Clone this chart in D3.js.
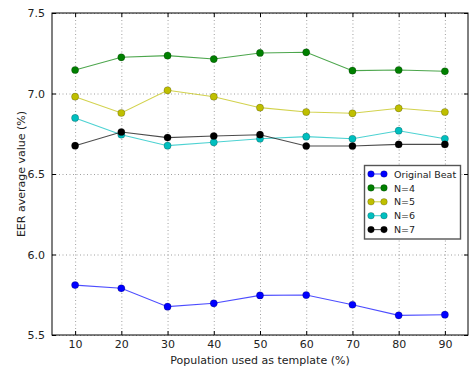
<!DOCTYPE html>
<html>
<head>
<meta charset="utf-8">
<script src="https://cdn.jsdelivr.net/npm/d3@7/dist/d3.min.js"></script>
<style>
  html, body { margin: 0; padding: 0; background: #fff; }
  svg { display: block; font-family: "DejaVu Sans", sans-serif; }
</style>
</head>
<body>
<svg id="chart" width="469" height="376"></svg>
<script>
// Population share used as template (%)
const populations = [10, 20, 30, 40, 50, 60, 70, 80, 90];

// EER average values (%) per configuration
const originalBeat = [5.81, 5.79, 5.676, 5.697, 5.746, 5.748, 5.688, 5.622, 5.626];
const n4 = [7.146, 7.225, 7.235, 7.214, 7.252, 7.256, 7.142, 7.146, 7.138];
const n5 = [6.980, 6.879, 7.020, 6.980, 6.912, 6.885, 6.877, 6.908, 6.885];
const n6 = [6.848, 6.744, 6.676, 6.697, 6.719, 6.732, 6.719, 6.769, 6.719];
const n7 = [6.676, 6.761, 6.726, 6.736, 6.744, 6.674, 6.674, 6.684, 6.684];

const seriesNames = ["Original Beat", "N=4", "N=5", "N=6", "N=7"];
const seriesColors = ["#0000ff", "#008000", "#bfbf00", "#00bfbf", "#000000"];
const yTicks = [5.5, 6.0, 6.5, 7.0, 7.5];
const xTicks = [10, 20, 30, 40, 50, 60, 70, 80, 90];

const series = [originalBeat, n4, n5, n6, n7].map((vals, i) => ({
  name: seriesNames[i], color: seriesColors[i], values: vals
}));

const svg = d3.select("#chart");
const m = { left: 52, top: 13, right: 468, bottom: 335 };

const x = d3.scaleLinear().domain([5, 95]).range([m.left, m.right]);
const y = d3.scaleLinear().domain([5.5, 7.5]).range([m.bottom, m.top]);

// dotted grid
const grid = svg.append("g");
grid.selectAll("line.vg").data(xTicks).join("line")
  .attr("x1", d => x(d) + 0.5).attr("x2", d => x(d) + 0.5)
  .attr("y1", m.top).attr("y2", m.bottom)
  .attr("stroke", "#888").attr("stroke-width", 0.8).attr("stroke-dasharray", "1,2.5");
grid.selectAll("line.hg").data(yTicks).join("line")
  .attr("x1", m.left).attr("x2", m.right)
  .attr("y1", d => y(d) + 0.5).attr("y2", d => y(d) + 0.5)
  .attr("stroke", "#888").attr("stroke-width", 0.8).attr("stroke-dasharray", "1,2.5");

// axes with inward ticks on all sides
const axisBottom = d3.axisBottom(x).tickValues(xTicks).tickSize(-4).tickPadding(5).tickFormat(d3.format("d"));
const axisTop = d3.axisTop(x).tickValues(xTicks).tickSize(-4).tickFormat("");
const axisLeft = d3.axisLeft(y).tickValues(yTicks).tickSize(-4).tickPadding(7).tickFormat(d3.format(".1f"));
const axisRight = d3.axisRight(y).tickValues(yTicks).tickSize(-4).tickFormat("");

function styleAxis(g) {
  g.select(".domain").remove();
  g.selectAll(".tick line").attr("stroke", "#000");
  g.selectAll(".tick text").attr("fill", "#222").style("font-size", "11px")
    .style("font-family", "'DejaVu Sans', sans-serif");
}
svg.append("g").attr("transform", `translate(0,${m.bottom})`).call(axisBottom).call(styleAxis);
svg.append("g").attr("transform", `translate(0,${m.top})`).call(axisTop).call(styleAxis);
svg.append("g").attr("transform", `translate(${m.left},0)`).call(axisLeft).call(styleAxis);
svg.append("g").attr("transform", `translate(${m.right},0)`).call(axisRight).call(styleAxis);

// frame
svg.append("rect")
  .attr("x", m.left).attr("y", m.top)
  .attr("width", m.right - m.left).attr("height", m.bottom - m.top)
  .attr("fill", "none").attr("stroke", "#000").attr("stroke-width", 1);

// lines and markers
const line = d3.line().x((d, i) => x(populations[i])).y(d => y(d));
const plot = svg.append("g");
series.forEach(s => {
  plot.append("path").datum(s.values)
    .attr("d", line).attr("fill", "none")
    .attr("stroke", s.color).attr("stroke-opacity", 0.7).attr("stroke-width", 1.1);
  plot.selectAll(null).data(s.values).join("circle")
    .attr("cx", (d, i) => x(populations[i])).attr("cy", d => y(d))
    .attr("r", 3.6).attr("fill", s.color)
    .attr("stroke", "#000").attr("stroke-opacity", 0.35).attr("stroke-width", 0.6);
});

// axis titles
svg.append("text")
  .attr("x", (m.left + m.right) / 2).attr("y", 364)
  .attr("text-anchor", "middle").attr("fill", "#222")
  .style("font-size", "11px")
  .text("Population used as template (%)");
svg.append("text")
  .attr("transform", `translate(25,${(m.top + m.bottom) / 2}) rotate(-90)`)
  .attr("text-anchor", "middle").attr("fill", "#222")
  .style("font-size", "11px")
  .text("EER average value (%)");

// legend
const lg = svg.append("g");
lg.append("rect").attr("x", 364.5).attr("y", 165.5).attr("width", 96).attr("height", 73.5)
  .attr("fill", "#fff").attr("stroke", "#555").attr("stroke-width", 1.4);
series.forEach((s, i) => {
  const cy = 174 + i * 13.9;
  lg.append("line").attr("x1", 371).attr("x2", 384).attr("y1", cy).attr("y2", cy)
    .attr("stroke", s.color).attr("stroke-opacity", 0.7).attr("stroke-width", 1.1);
  [371, 384].forEach(cx => lg.append("circle").attr("cx", cx).attr("cy", cy).attr("r", 3.3)
    .attr("fill", s.color).attr("stroke", "#000").attr("stroke-opacity", 0.35).attr("stroke-width", 0.6));
  lg.append("text").attr("x", 394).attr("y", cy + 3.6).attr("fill", "#222")
    .style("font-size", "9.5px").text(s.name);
});
</script>
</body>
</html>
